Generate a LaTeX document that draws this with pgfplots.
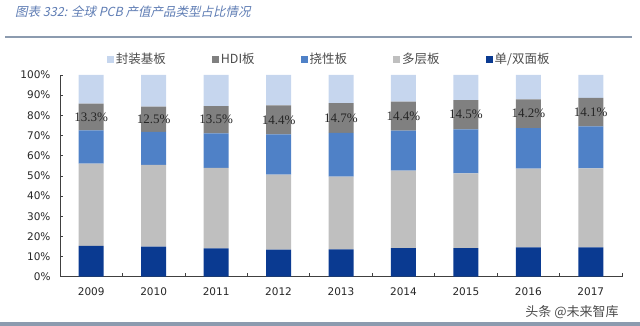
\documentclass[border=0pt]{standalone}
\usepackage{pgfplots}
\pgfplotsset{compat=1.18}
\usepackage{fontspec}
\setmainfont{DejaVu Sans}
\newfontfamily\cjk{Noto Sans CJK SC}
\newfontfamily\cjkit[FakeSlant=0.22]{Noto Sans CJK SC}
\newfontfamily\lbl{Liberation Serif}
\definecolor{cPkg}{RGB}{198,214,238}
\definecolor{cHDI}{RGB}{128,128,128}
\definecolor{cFlex}{RGB}{79,129,199}
\definecolor{cMulti}{RGB}{191,191,191}
\definecolor{cSingle}{RGB}{10,58,145}
\definecolor{titleblue}{RGB}{95,125,180}
\definecolor{rulegray}{RGB}{140,155,175}
\pgfplotstableread{
x single multi flex hdi pkg
0 15.3 40.8 16.4 13.3 14.2
1 14.9 40.5 16.4 12.5 15.7
2 14.0 39.9 17.2 13.5 15.4
3 13.4 37.2 20.0 14.4 15.0
4 13.6 36.0 21.7 14.7 14.0
5 14.2 38.4 19.8 14.4 13.2
6 14.2 37.0 21.9 14.5 12.4
7 14.5 39.1 20.1 14.2 12.1
8 14.5 39.2 20.8 14.1 11.4
}\datatable
\begin{document}
\begin{tikzpicture}
\path[use as bounding box] (0,0) rectangle (640bp,326bp);
\node[anchor=west, font=\cjkit\fontsize{12.5bp}{14bp}\selectfont, text=titleblue, inner sep=0] at (15bp,314bp) {图表 332: 全球 PCB 产值产品类型占比情况};
\draw[rulegray, line width=1.2bp] (5bp,289bp) -- (632bp,289bp);
\fill[rulegray] (0,0) rectangle (640bp,4bp);
\begin{axis}[
  at={(60bp,49.3bp)}, anchor=south west,
  scale only axis, width=562bp, height=201.7bp,
  ybar stacked, bar width=25bp,
  xmin=-0.5, xmax=8.5, ymin=0, ymax=100,
  axis x line*=bottom, axis y line*=left,
  axis line style={black!75, line width=0.6bp},
  xtick={0,...,8},
  xticklabels={2009,2010,2011,2012,2013,2014,2015,2016,2017},
  minor xtick={-0.5,0.5,...,8.5},
  major x tick style={draw=none},
  minor x tick style={black!75, line width=0.6bp},
  minor tick length=4bp,
  ytick={0,10,...,100},
  yticklabels={0\%,10\%,20\%,30\%,40\%,50\%,60\%,70\%,80\%,90\%,100\%},
  major tick length=3bp,
  y tick style={black!75, line width=0.6bp},
  tick label style={font=\fontsize{10.5bp}{12bp}\selectfont, text=black!85},
  yticklabel style={xshift=-6bp},
  xticklabel style={yshift=-7bp},
  legend style={at={(0.083,1.079)}, anchor=west, draw=none, fill=none,
    inner sep=0pt, font=\cjk\fontsize{12.5bp}{13bp}\selectfont, text=black!70,
    /tikz/every even column/.append style={column sep=44bp}},
  legend columns=5, reverse legend,
]
\addplot[fill=cSingle, draw=none, legend image code/.code={\fill[cSingle] (0bp,-3.5bp) rectangle (7bp,3.5bp);}] table[x=x, y=single] {\datatable};
\addlegendentry{单/双面板}
\addplot[fill=cMulti, draw=none, legend image code/.code={\fill[cMulti] (0bp,-3.5bp) rectangle (7bp,3.5bp);}] table[x=x, y=multi] {\datatable};
\addlegendentry{多层板}
\addplot[fill=cFlex, draw=none, legend image code/.code={\fill[cFlex] (0bp,-3.5bp) rectangle (7bp,3.5bp);}] table[x=x, y=flex] {\datatable};
\addlegendentry{挠性板}
\addplot[fill=cHDI, draw=none, legend image code/.code={\fill[cHDI] (0bp,-3.5bp) rectangle (7bp,3.5bp);}] table[x=x, y=hdi] {\datatable};
\addlegendentry{HDI板}
\addplot[fill=cPkg, draw=none, legend image code/.code={\fill[cPkg] (0bp,-3.5bp) rectangle (7bp,3.5bp);}] table[x=x, y=pkg] {\datatable};
\addlegendentry{封装基板}
\end{axis}
\begin{axis}[
  at={(60bp,49.3bp)}, anchor=south west,
  scale only axis, width=562bp, height=201.7bp,
  xmin=-0.5, xmax=8.5, ymin=0, ymax=100, hide axis, clip=false,
]
\addplot[draw=none, mark=none, nodes near coords, point meta=explicit symbolic,
  nodes near coords style={anchor=center, inner sep=0pt, text=black!85, font=\lbl\fontsize{13bp}{13bp}\selectfont}]
  coordinates {(0,79.15)[13.3\%] (1,78.05)[12.5\%] (2,77.85)[13.5\%] (3,77.8)[14.4\%] (4,78.65)[14.7\%] (5,79.6)[14.4\%] (6,80.35)[14.5\%] (7,80.8)[14.2\%] (8,81.55)[14.1\%]};
\end{axis}
\node[anchor=center, font=\cjk\fontsize{13bp}{14bp}\selectfont, text=black!70, inner sep=0] at (572bp,14bp) {头条 @未来智库};
\end{tikzpicture}
\end{document}
